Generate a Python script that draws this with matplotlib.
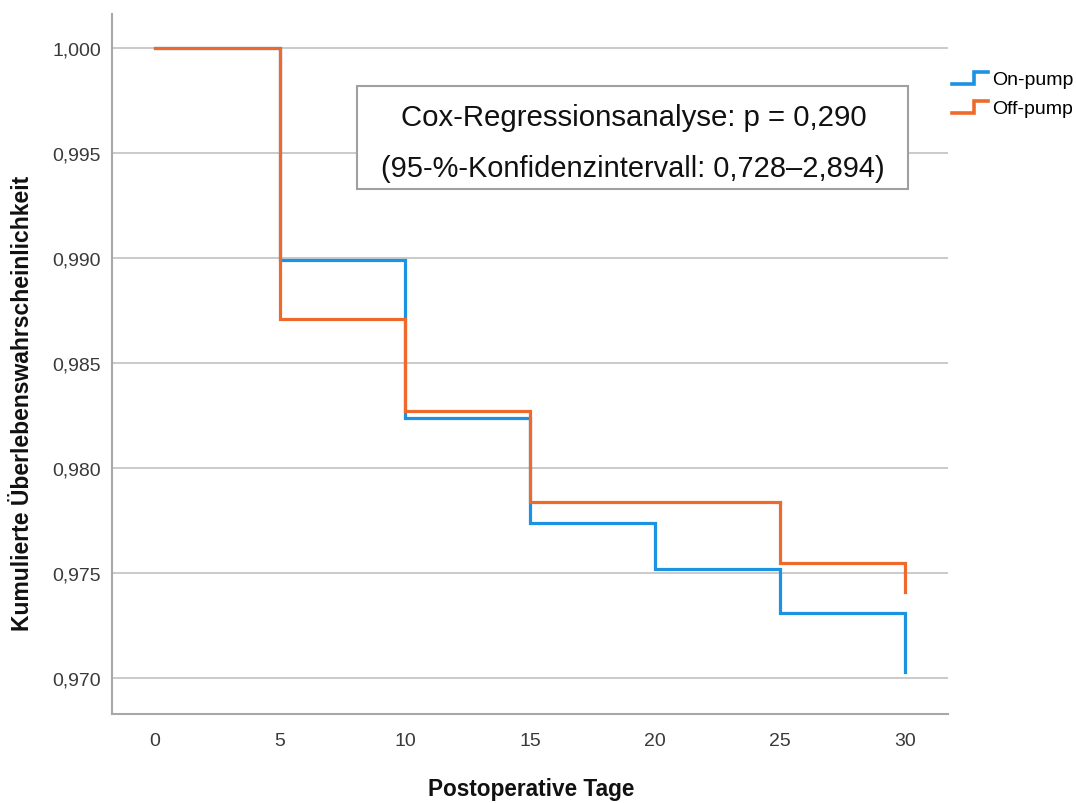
import matplotlib
matplotlib.use("Agg")
import matplotlib.pyplot as plt
from matplotlib.lines import Line2D
from matplotlib.legend_handler import HandlerBase
from matplotlib.patches import Rectangle

# ---- data ----
days = [0, 5, 10, 15, 20, 25, 30]
on_pump = [1.000, 0.9899, 0.9824, 0.9774, 0.9752, 0.9731, 0.9703]
off_pump = [1.000, 0.9871, 0.9827, 0.9784, 0.9784, 0.9755, 0.9741]
series_names = ["On-pump", "Off-pump"]
x_ticks = [0, 5, 10, 15, 20, 25, 30]
y_ticks = [0.970, 0.975, 0.980, 0.985, 0.990, 0.995, 1.000]
y_tick_labels = ["0,970", "0,975", "0,980", "0,985", "0,990", "0,995", "1,000"]
x_label = "Postoperative Tage"
y_label = "Kumulierte Überlebenswahrscheinlichkeit"
box_lines = ["Cox-Regressionsanalyse: p = 0,290",
             "(95-%-Konfidenzintervall: 0,728–2,894)"]

BLUE = "#1c92e3"
ORANGE = "#ee6a2c"
plt.rcParams['font.family'] = ['Liberation Sans', 'DejaVu Sans']

W, H = 1076, 804
fig = plt.figure(figsize=(W / 100, H / 100), dpi=100)
fig.patch.set_facecolor("white")
ax = fig.add_axes([112 / W, 1 - 715 / H, (948 - 112) / W, (715 - 15) / H])

ax.plot(days, on_pump, drawstyle="steps-post", color=BLUE, lw=2.3, zorder=3,
        solid_joinstyle="miter")
ax.plot(days, off_pump, drawstyle="steps-post", color=ORANGE, lw=2.3, zorder=4,
        solid_joinstyle="miter")

ax.set_xlim(-1.72, 31.72)
ax.set_ylim(0.96829, 1.00162)
ax.set_xticks(x_ticks)
ax.set_xticklabels([str(v) for v in x_ticks])
ax.set_yticks(y_ticks)
ax.set_yticklabels(y_tick_labels)
ax.tick_params(axis="both", length=0, labelsize=14, colors="#3a3a3a")
ax.tick_params(axis="y", pad=8)
ax.tick_params(axis="x", pad=13)
ax.grid(axis="y", color="#c6c6c6", lw=1.3)
ax.set_axisbelow(True)
for s in ["top", "right"]:
    ax.spines[s].set_visible(False)
for s in ["left", "bottom"]:
    ax.spines[s].set_color("#a8a8a8")
    ax.spines[s].set_linewidth(1.5)

fig.text(531 / W, 1 - 790 / H, x_label, ha="center", va="center",
         fontsize=16.3, fontweight="bold", color="#111111")
fig.text(23 / W, 1 - 403 / H, y_label, ha="center", va="center", rotation=90,
         fontsize=16.5, fontweight="bold", color="#111111")

# annotation box
fig.patches.append(Rectangle((357 / W, 1 - 190 / H), (908 - 357) / W, (190 - 87) / H,
                             transform=fig.transFigure, facecolor="white",
                             edgecolor="#a0a0a0", lw=1.5, zorder=5))
fig.text(634 / W, 1 - 118 / H, box_lines[0], ha="center", va="center",
         fontsize=21.2, color="#111111", zorder=6)
fig.text(633 / W, 1 - 169 / H, box_lines[1], ha="center", va="center",
         fontsize=20.9, color="#111111", zorder=6)


class StepHandler(HandlerBase):
    def create_artists(self, legend, orig_handle, xdescent, ydescent,
                       width, height, fontsize, trans):
        x0 = -xdescent
        xs = [x0, x0 + 0.62 * width, x0 + 0.62 * width, x0 + width]
        ys = [-ydescent + 0.0 * height, -ydescent + 0.0 * height,
              -ydescent + 0.85 * height, -ydescent + 0.85 * height]
        ln = Line2D(xs, ys, color=orig_handle.get_color(), lw=2.6,
                    solid_joinstyle="miter")
        ln.set_transform(trans)
        return [ln]


handles = [Line2D([], [], color=BLUE), Line2D([], [], color=ORANGE)]
fig.legend(handles, series_names, loc="upper left",
           bbox_to_anchor=(952 / W, 1 - 71 / H), frameon=False,
           fontsize=14, handlelength=1.85, handletextpad=0.2,
           labelspacing=0.6, borderpad=0, borderaxespad=0,
           handler_map={Line2D: StepHandler()})

fig.savefig("out.png", dpi=100)
